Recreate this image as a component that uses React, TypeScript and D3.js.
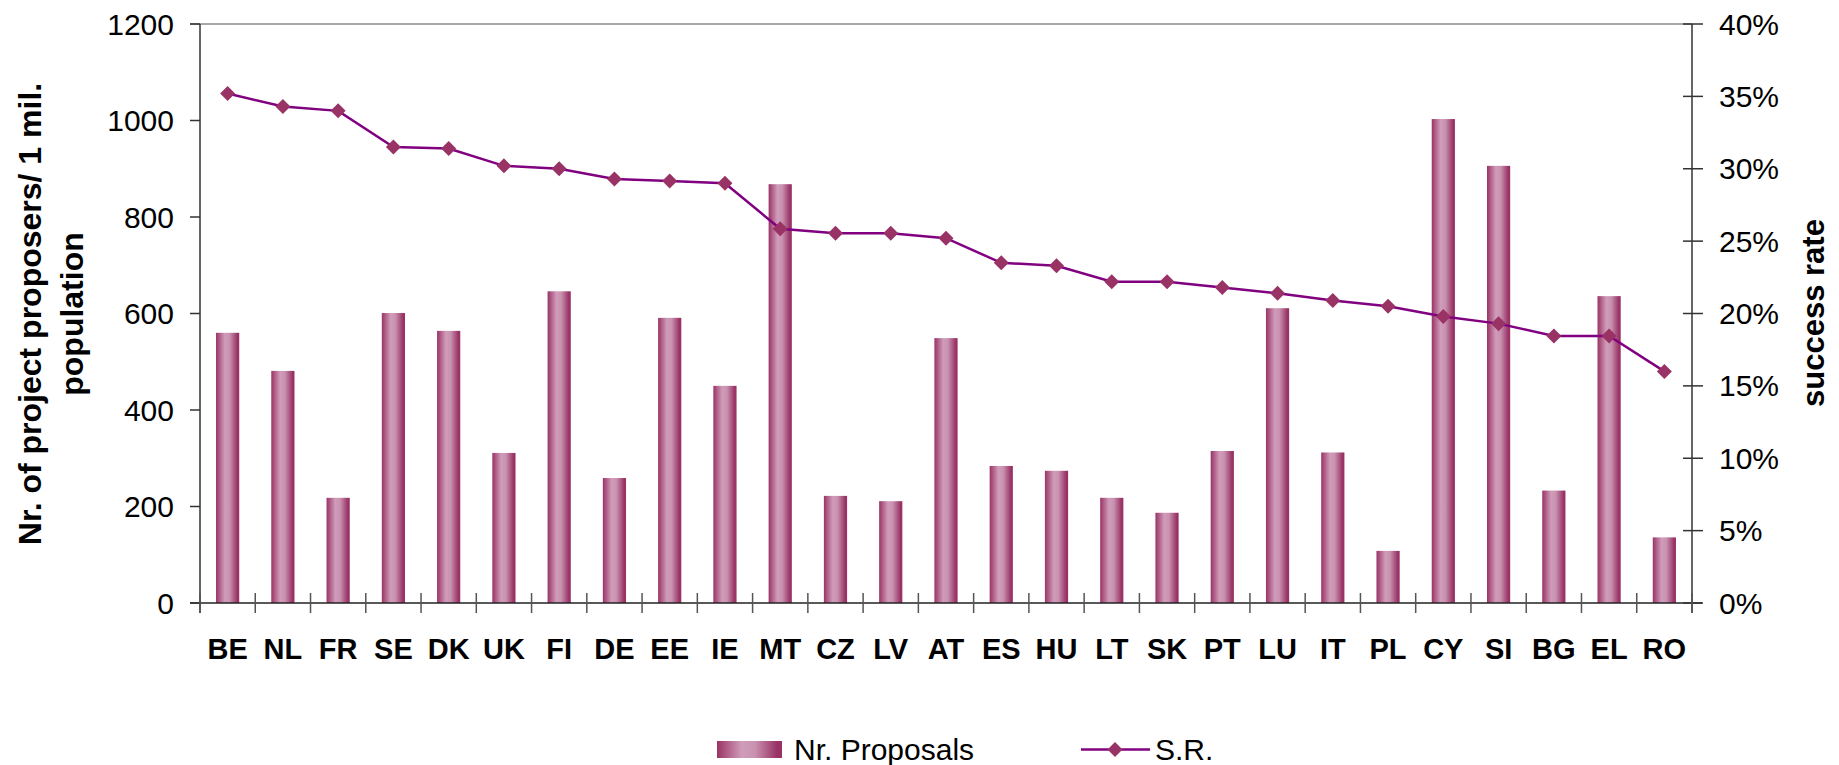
import React from 'react';
import * as d3 from 'd3';

const countries = ['BE', 'NL', 'FR', 'SE', 'DK', 'UK', 'FI', 'DE', 'EE', 'IE', 'MT', 'CZ', 'LV', 'AT', 'ES', 'HU', 'LT', 'SK', 'PT', 'LU', 'IT', 'PL', 'CY', 'SI', 'BG', 'EL', 'RO'];
const proposals = [560, 481, 218, 601, 564, 311, 646, 259, 591, 450, 868, 222, 211, 549, 284, 274, 218, 187, 315, 611, 312, 108, 1003, 906, 233, 636, 136];
const successRate = [0.352, 0.343, 0.340, 0.315, 0.314, 0.302, 0.300, 0.293, 0.2915, 0.290, 0.2585, 0.2555, 0.2555, 0.252, 0.235, 0.233, 0.222, 0.222, 0.218, 0.214, 0.209, 0.205, 0.198, 0.193, 0.1845, 0.1845, 0.160];
const leftTicks = [0, 200, 400, 600, 800, 1000, 1200];
const rightTicks = [0, 0.05, 0.1, 0.15, 0.2, 0.25, 0.3, 0.35, 0.4];

const W = 1839;
const H = 765;
const plot = { left: 200, right: 1692, top: 24, bottom: 603 };
const font = '"Liberation Sans", Arial, sans-serif';

export default function App() {
  const x = d3.scaleBand<string>().domain(countries).range([plot.left, plot.right]).padding(0);
  const yL = d3.scaleLinear().domain([0, 1200]).range([plot.bottom, plot.top]);
  const yR = d3.scaleLinear().domain([0, 0.4]).range([plot.bottom, plot.top]);
  const barW = x.bandwidth() * 0.42;
  const cx = (c: string) => (x(c) as number) + x.bandwidth() / 2;

  const line = d3.line<number>()
    .x((d, i) => cx(countries[i]))
    .y(d => yR(d));

  const diamond = (px: number, py: number, r = 7.5) =>
    `M${px},${py - r}L${px + r},${py}L${px},${py + r}L${px - r},${py}Z`;

  const bounds = countries.map(c => x(c) as number).concat([plot.right]);
  const fmtPct = d3.format('.0%');

  return (
    <svg width={W} height={H} style={{ position: 'absolute', left: 0, top: 0, background: '#fff' }}>
      <defs>
        <linearGradient id="barGrad" x1="0" x2="1" y1="0" y2="0">
          <stop offset="0%" stopColor="#993366" />
          <stop offset="38%" stopColor="#d09cb9" />
          <stop offset="58%" stopColor="#c993b0" />
          <stop offset="92%" stopColor="#993366" />
          <stop offset="100%" stopColor="#993366" />
        </linearGradient>
      </defs>

      {/* top gridline */}
      <line x1={plot.left - 10} x2={plot.right} y1={plot.top} y2={plot.top} stroke="#8a8a8a" strokeWidth={1.5} />

      {/* bars */}
      {proposals.map((v, i) => (
        <rect key={countries[i]} x={cx(countries[i]) - barW / 2} y={yL(v)} width={barW}
          height={plot.bottom - yL(v)} fill="url(#barGrad)" />
      ))}

      {/* axes */}
      <line x1={plot.left} x2={plot.left} y1={plot.top} y2={plot.bottom + 10} stroke="#333" strokeWidth={1.5} />
      <line x1={plot.right} x2={plot.right} y1={plot.top} y2={plot.bottom + 10} stroke="#333" strokeWidth={1.5} />
      <line x1={plot.left - 10} x2={plot.right + 10} y1={plot.bottom} y2={plot.bottom} stroke="#222" strokeWidth={1.5} />

      {leftTicks.map(t => (
        <g key={'l' + t}>
          <line x1={plot.left - 10} x2={plot.left} y1={yL(t)} y2={yL(t)} stroke="#333" strokeWidth={1.5} />
          <text x={174} y={yL(t)} dy="0.35em" textAnchor="end" fontSize={30} fontFamily={font} fill="#000">{t}</text>
        </g>
      ))}
      {rightTicks.map(t => (
        <g key={'r' + t}>
          <line x1={plot.right - 9} x2={plot.right + 11} y1={yR(t)} y2={yR(t)} stroke="#333" strokeWidth={1.5} />
          <text x={1719} y={yR(t)} dy="0.35em" textAnchor="start" fontSize={30} fontFamily={font} fill="#000">{fmtPct(t)}</text>
        </g>
      ))}
      {bounds.map((b, i) => (
        <line key={'xt' + i} x1={b} x2={b} y1={plot.bottom - 10} y2={plot.bottom + 10} stroke="#555" strokeWidth={1.5} />
      ))}
      {countries.map(c => (
        <text key={'xl' + c} x={cx(c)} y={659} textAnchor="middle" fontSize={29} fontWeight="bold" fontFamily={font} fill="#000">{c}</text>
      ))}

      {/* line series */}
      <path d={line(successRate) || ''} fill="none" stroke="#800080" strokeWidth={2.5} />
      {successRate.map((v, i) => (
        <path key={'d' + i} d={diamond(cx(countries[i]), yR(v))} fill="#993366" />
      ))}

      {/* axis titles */}
      <text transform="translate(41,314) rotate(-90)" textAnchor="middle" fontSize={32} fontWeight="bold" fontFamily={font} fill="#000">
        Nr. of project proposers/ 1 mil.
      </text>
      <text transform="translate(83,314) rotate(-90)" textAnchor="middle" fontSize={32} fontWeight="bold" fontFamily={font} fill="#000">
        population
      </text>
      <text transform="translate(1824,313) rotate(-90)" textAnchor="middle" fontSize={31} fontWeight="bold" fontFamily={font} fill="#000">
        success rate
      </text>

      {/* legend */}
      <rect x={717} y={741} width={65} height={17} fill="url(#barGrad)" />
      <text x={794} y={760} fontSize={30} fontFamily={font} fill="#000">Nr. Proposals</text>
      <line x1={1081} x2={1150} y1={749.5} y2={749.5} stroke="#800080" strokeWidth={2.5} />
      <path d={diamond(1115, 749.5)} fill="#993366" />
      <text x={1155} y={760} fontSize={30} fontFamily={font} fill="#000">S.R.</text>
    </svg>
  );
}
